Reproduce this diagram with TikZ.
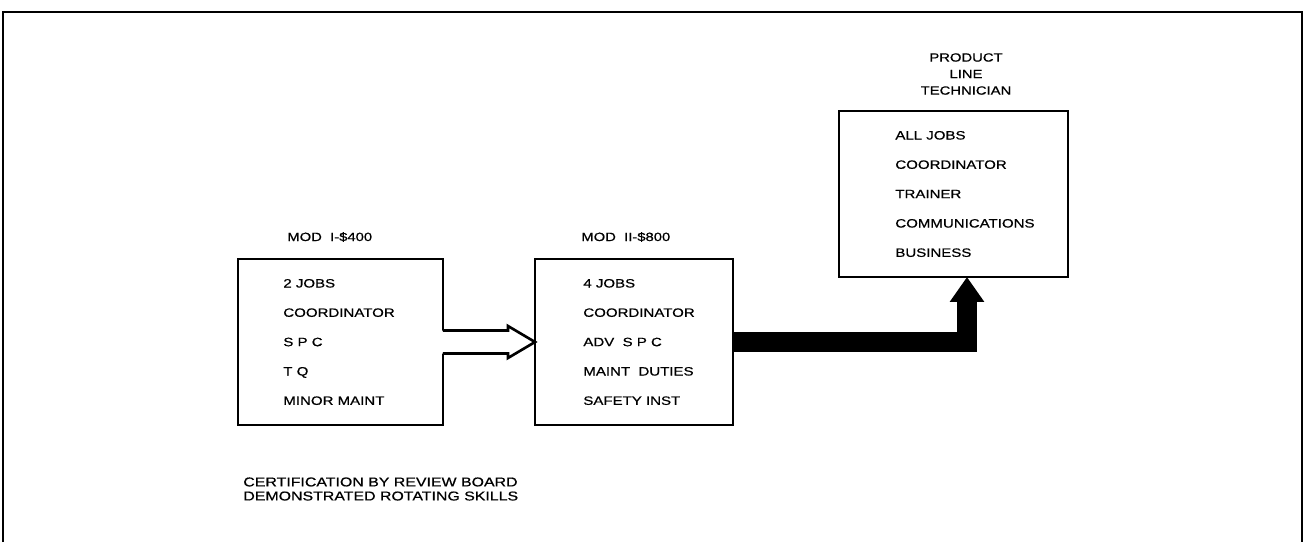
\documentclass[tikz,border=0pt]{standalone}
\usepackage{fontspec}
\setmainfont{Liberation Sans}[FakeStretch=1.24, FakeBold=0.6]
\usetikzlibrary{arrows.meta,calc}
\usetikzlibrary{positioning}

\begin{document}
\begin{tikzpicture} [
    x=0.02cm, y=-0.02cm,
    box/.style={rectangle, draw=black, line width=1.5pt, minimum height=3.32cm, outer sep=0pt},
    items/.style={inner sep=0pt, align=left, font=\fontsize{6.9}{16.7}\selectfont},
    ttl/.style={inner sep=0pt, font=\fontsize{6.8}{9.4}\selectfont},
    hollow/.style={draw=black, line width=1.5pt, line join=miter},
    fat/.style={line width=0.4cm, line join=miter, -{Triangle[length=0.5cm, width=0.66cm]}}
    ]
    \useasboundingbox (0,0) rectangle (1305,542);

    %Frame
    \draw[line width=1.4pt] (3,542) -- (3,12) -- (1302,12) -- (1302,542);

    %Boxes
    \node[box, minimum width=4.1cm]  (modone) at (340.5,342) {};
    \node[box, minimum width=3.96cm] (modtwo) at (634,342)   {};
    \node[box, minimum width=4.58cm] (plt)    at (953.5,194) {};

    %Box contents
    \node[items, right=0.9cm of modone.west]  (modonelist) {2 JOBS\\COORDINATOR\\S P C\\T Q\\MINOR MAINT};
    \node[items, right=0.96cm of modtwo.west] (modtwolist) {4 JOBS\\COORDINATOR\\ADV~ S P C\\MAINT~ DUTIES\\SAFETY INST};
    \node[items, right=1.12cm of plt.west]    (pltlist)    {ALL JOBS\\COORDINATOR\\TRAINER\\COMMUNICATIONS\\BUSINESS};

    %Titles
    \node[ttl, anchor=west] (modonelbl) at (287,237) {MOD~ I-\$400};
    \node[ttl, anchor=west] (modtwolbl) at (581,237) {MOD~ II-\$800};
    \node[ttl, align=center] (pltlbl) at (966,74) {PRODUCT\\LINE\\TECHNICIAN};
    \node[ttl, align=left, anchor=west, font=\fontsize{7.3}{8}\selectfont] (cert) at (243,489)
        {CERTIFICATION BY REVIEW BOARD\\DEMONSTRATED ROTATING SKILLS};

    %Arrows
    \fill[white] ($(modone.east)+(-2,-11.5)$) -- ($(modone.east)+(65,-11.5)$) -- ($(modone.east)+(65,-16)$)
        -- (modtwo.west) -- ($(modone.east)+(65,16)$) -- ($(modone.east)+(65,11.5)$) -- ($(modone.east)+(-2,11.5)$) -- cycle;
    \draw[hollow] ($(modone.east)+(0,-11.5)$) -- ($(modone.east)+(65,-11.5)$) -- ($(modone.east)+(65,-16)$)
        -- (modtwo.west) -- ($(modone.east)+(65,16)$) -- ($(modone.east)+(65,11.5)$) -- ($(modone.east)+(0,11.5)$);
    \draw[fat] (modtwo.east) -| ($(plt.south)+(13.5,0)$);

\end{tikzpicture}
\end{document}
